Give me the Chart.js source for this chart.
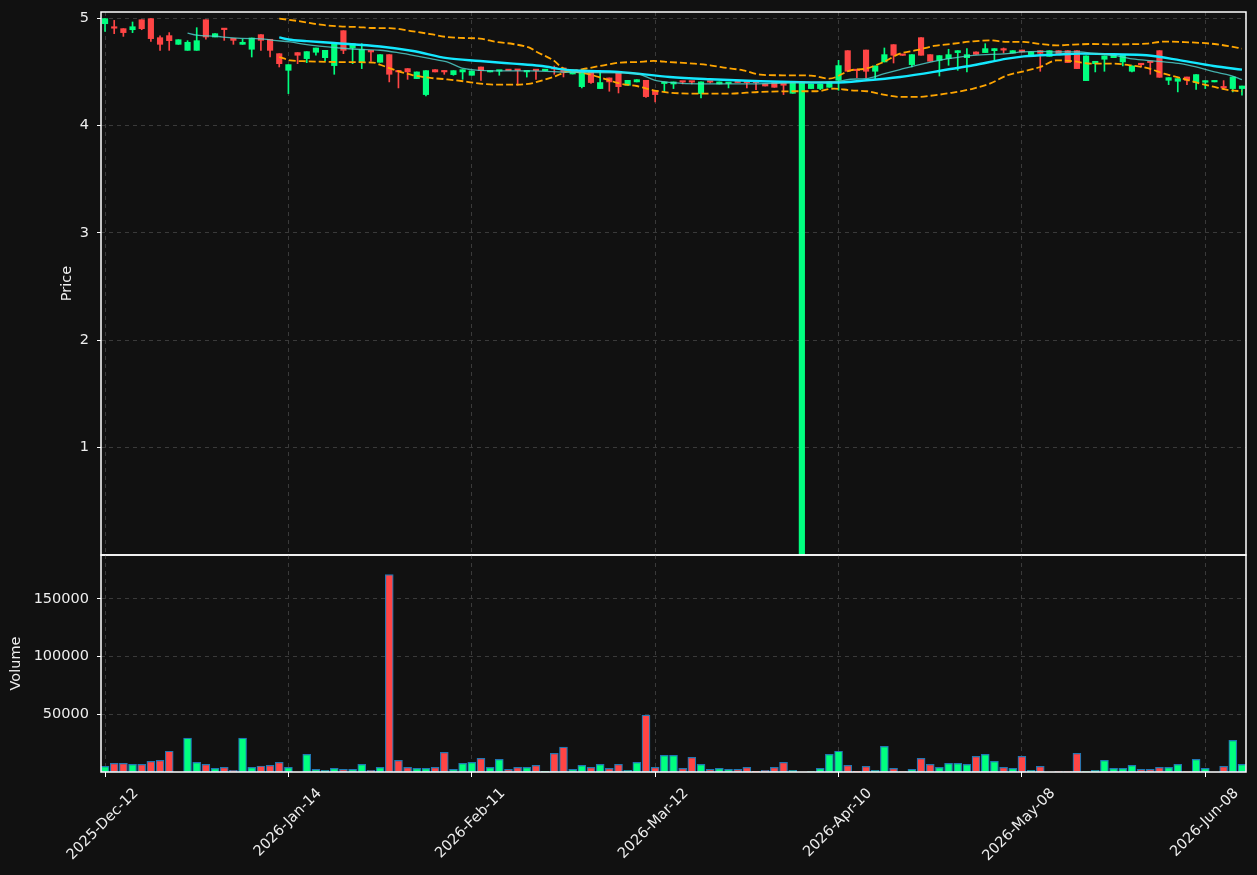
<!DOCTYPE html>
<html>
<head>
<meta charset="utf-8">
<script src="https://cdn.jsdelivr.net/npm/chart.js@4.4.1/dist/chart.umd.min.js"></script>
<style>
html, body { margin:0; padding:0; background:#111111; }
#wrap { position:relative; width:1257px; height:875px; }
#price { position:absolute; left:0; top:0; }
#vol { position:absolute; left:0; top:554px; }
</style>
</head>
<body>
<div id="wrap">
  <canvas id="price" width="1257" height="556"></canvas>
  <canvas id="vol" width="1257" height="321"></canvas>
</div>
<script>
// daily candles, index 0 = 2025-Dec-12
const openP = [4.947,4.908,4.901,4.891,4.984,4.994,4.817,4.836,4.755,4.699,
  4.699,4.984,4.823,4.898,4.811,4.755,4.709,4.845,4.802,4.668,
  4.513,4.678,4.622,4.681,4.631,4.557,4.882,4.721,4.588,4.699,
  4.588,4.659,4.510,4.529,4.436,4.287,4.519,4.510,4.473,4.498,
  4.467,4.544,4.498,4.505,4.513,4.515,4.498,4.513,4.510,4.529,
  4.535,4.479,4.361,4.495,4.343,4.442,4.498,4.374,4.405,4.420,
  4.324,4.390,4.386,4.406,4.406,4.296,4.406,4.386,4.390,4.401,
  4.401,4.401,4.386,4.405,4.405,4.299,0.0,4.343,4.343,4.355,
  4.420,4.696,4.515,4.702,4.504,4.591,4.752,4.655,4.566,4.817,
  4.659,4.606,4.622,4.678,4.631,4.684,4.678,4.696,4.705,4.674,
  4.702,4.659,4.696,4.643,4.696,4.696,4.696,4.417,4.575,4.616,
  4.631,4.591,4.504,4.572,4.597,4.696,4.420,4.411,4.451,4.399,
  4.402,4.405,4.352,4.343,4.343];
const highP = [4.994,4.978,4.901,4.963,4.984,4.994,4.833,4.864,4.798,4.789,
  4.910,4.984,4.854,4.898,4.811,4.802,4.814,4.845,4.802,4.668,
  4.566,4.678,4.687,4.721,4.699,4.761,4.882,4.761,4.761,4.699,
  4.659,4.659,4.510,4.529,4.498,4.510,4.519,4.510,4.510,4.519,
  4.507,4.544,4.507,4.513,4.513,4.515,4.513,4.513,4.510,4.553,
  4.535,4.510,4.495,4.495,4.513,4.442,4.498,4.420,4.426,4.420,
  4.324,4.405,4.405,4.406,4.406,4.405,4.406,4.405,4.400,4.401,
  4.401,4.401,4.386,4.405,4.405,4.405,4.405,4.386,4.386,4.405,
  4.606,4.696,4.515,4.702,4.554,4.721,4.752,4.655,4.659,4.817,
  4.659,4.650,4.709,4.696,4.715,4.684,4.761,4.715,4.721,4.696,
  4.702,4.684,4.696,4.696,4.696,4.696,4.696,4.647,4.597,4.647,
  4.653,4.653,4.554,4.572,4.597,4.696,4.445,4.436,4.451,4.473,
  4.417,4.405,4.417,4.451,4.367];
const lowP = [4.876,4.854,4.829,4.864,4.891,4.783,4.699,4.699,4.755,4.699,
  4.699,4.802,4.823,4.792,4.755,4.755,4.637,4.699,4.637,4.544,
  4.296,4.575,4.584,4.653,4.600,4.476,4.668,4.575,4.529,4.597,
  4.588,4.405,4.349,4.429,4.436,4.274,4.498,4.476,4.467,4.429,
  4.467,4.420,4.498,4.467,4.510,4.374,4.450,4.429,4.510,4.476,
  4.451,4.479,4.349,4.390,4.343,4.318,4.302,4.374,4.405,4.260,
  4.219,4.312,4.343,4.386,4.386,4.256,4.395,4.386,4.349,4.399,
  4.349,4.333,4.367,4.355,4.287,4.299,0.0,4.343,4.333,4.355,
  4.327,4.504,4.445,4.445,4.436,4.591,4.581,4.652,4.544,4.653,
  4.597,4.460,4.560,4.513,4.498,4.662,4.678,4.606,4.674,4.674,
  4.684,4.659,4.504,4.643,4.660,4.585,4.529,4.417,4.498,4.504,
  4.631,4.554,4.498,4.544,4.476,4.448,4.380,4.312,4.380,4.336,
  4.343,4.405,4.333,4.312,4.281];
const closeP = [4.994,4.905,4.864,4.919,4.901,4.808,4.755,4.789,4.798,4.774,
  4.789,4.823,4.854,4.892,4.792,4.774,4.814,4.792,4.699,4.575,
  4.566,4.653,4.687,4.721,4.699,4.761,4.699,4.761,4.709,4.684,
  4.659,4.476,4.498,4.498,4.498,4.510,4.498,4.498,4.510,4.519,
  4.507,4.510,4.507,4.513,4.510,4.512,4.513,4.510,4.510,4.525,
  4.495,4.510,4.495,4.399,4.399,4.405,4.361,4.420,4.426,4.268,
  4.287,4.405,4.405,4.403,4.403,4.405,4.403,4.405,4.400,4.399,
  4.398,4.398,4.367,4.355,4.374,4.405,4.405,4.386,4.386,4.405,
  4.557,4.504,4.510,4.504,4.554,4.659,4.653,4.652,4.659,4.653,
  4.597,4.650,4.659,4.696,4.659,4.662,4.715,4.715,4.701,4.696,
  4.684,4.684,4.671,4.696,4.660,4.585,4.529,4.647,4.597,4.647,
  4.653,4.653,4.554,4.565,4.585,4.448,4.445,4.436,4.420,4.473,
  4.417,4.405,4.349,4.451,4.367];
const volume = [4900,7540,7540,6670,6670,9280,10150,18000,0,29300,
  8400,6670,3190,4060,1450,29300,4060,5220,5800,8400,
  4060,0,15370,2320,1450,3190,2320,2320,6670,1450,
  4060,171000,10150,4060,3190,3190,4060,17100,2320,7540,
  8400,11900,4060,11000,2320,4060,4060,5800,500,16200,
  21500,2320,5800,4060,6670,3190,6670,1450,8400,49300,
  4060,14500,14500,3190,12760,6670,2320,3190,2320,2320,
  4060,580,1450,4060,8400,1450,0,300,3190,15370,
  18000,5800,580,4900,1450,22300,3190,400,2320,11900,
  6670,4060,7540,7540,6670,13600,15370,9280,4060,3190,
  13600,1450,4900,0,300,300,16200,300,1450,10150,
  3190,3190,5800,2320,2320,4060,4060,6670,300,11000,
  3190,0,4900,27500,6670];

// indicator lines: [bar index, price]
const maFast = [[9,4.86],[10,4.84],[12,4.83],[14,4.815],[16,4.808],[17,4.806],[18.4,4.792],
  [20.2,4.777],[22,4.752],[25.6,4.721],[27.5,4.709],[30,4.70],[31.8,4.68],[33.6,4.653],
  [35.5,4.622],[37.3,4.591],[39.1,4.53],[40.9,4.512],[44,4.507],[46.4,4.507],[50.7,4.495],
  [56,4.49],[58,4.482],[60,4.42],[61.6,4.40],[65,4.386],[70,4.386],[74,4.395],[76,4.40],
  [79.5,4.405],[81.3,4.43],[83,4.436],[85,4.482],[86.7,4.52],[88.5,4.56],[90.4,4.597],
  [92,4.622],[94.7,4.653],[98.4,4.668],[100,4.684],[102,4.69],[103.8,4.684],[106.4,4.684],
  [107.5,4.674],[110,4.653],[111.8,4.622],[113.6,4.606],[115.5,4.591],[117.3,4.575],
  [119,4.544],[121,4.498],[122.7,4.467],[124,4.426]];
const maSlow = [[19,4.82],[20,4.80],[22,4.785],[25,4.767],[30,4.735],[33.6,4.693],[37.3,4.626],
  [40.9,4.600],[44.5,4.575],[47.4,4.555],[50.7,4.513],[56,4.498],[61.6,4.451],[66,4.43],
  [71.5,4.411],[77,4.40],[79.5,4.399],[83.1,4.42],[86.7,4.451],[90.4,4.498],[92.2,4.525],
  [94.7,4.56],[98.4,4.622],[100.2,4.643],[103.8,4.659],[106.4,4.668],[110,4.662],
  [113.6,4.653],[117.3,4.606],[120.9,4.553],[124,4.519]];
const bandUpper = [[19,4.994],[21.3,4.969],[23.5,4.938],[25.6,4.922],[27.5,4.916],[29.3,4.907],
  [31,4.906],[33.6,4.876],[35.5,4.85],[37.3,4.823],[39.1,4.814],[40.9,4.808],[42.7,4.777],
  [44.5,4.758],[46.4,4.72],[47.1,4.684],[48.9,4.606],[50,4.529],[51,4.512],[52.5,4.53],
  [54.4,4.56],[56.2,4.585],[58,4.59],[59.8,4.60],[61.6,4.59],[64.2,4.575],[66,4.56],
  [67.8,4.535],[69.6,4.513],[71.5,4.473],[73.3,4.467],[77,4.464],[79,4.436],[81.3,4.513],
  [83,4.529],[84.9,4.59],[86.7,4.668],[88.5,4.70],[90.4,4.74],[92.2,4.758],[94.7,4.783],
  [96.5,4.792],[98.4,4.777],[100.2,4.777],[102,4.758],[103.8,4.745],[105.6,4.752],
  [107.5,4.758],[110,4.755],[113.6,4.761],[115.5,4.78],[117.3,4.777],[121,4.758],
  [122.7,4.736],[124,4.715]];
const bandLower = [[19,4.637],[20.2,4.606],[22,4.597],[25.6,4.59],[29.3,4.585],[30,4.565],
  [31.8,4.51],[33.6,4.467],[35.5,4.442],[37.3,4.429],[39.1,4.411],[40.9,4.389],[42.7,4.38],
  [44.5,4.38],[46.4,4.389],[47.1,4.405],[48.9,4.451],[50.7,4.504],[52.5,4.482],[54.4,4.436],
  [56.2,4.389],[58,4.367],[59.8,4.327],[61.6,4.305],[64.2,4.296],[67.8,4.296],[71.5,4.312],
  [75.1,4.318],[77.6,4.318],[79.5,4.343],[81.3,4.327],[83.1,4.318],[84.9,4.287],[86.7,4.265],
  [88.5,4.265],[90.4,4.28],[92.2,4.302],[94.7,4.343],[96.5,4.389],[98.4,4.467],[100.2,4.504],
  [102,4.544],[103.8,4.606],[105.6,4.597],[107.5,4.575],[110,4.575],[111.8,4.56],[113.6,4.535],
  [115.5,4.482],[117.3,4.442],[119,4.40],[121,4.358],[122.7,4.327],[124,4.318]];

const tickIdx = [0,20,40,60,80,100,120];
const tickLabels = ['2025-Dec-12','2026-Jan-14','2026-Feb-11','2026-Mar-12','2026-Apr-10','2026-May-08','2026-Jun-08'];
const priceTicks = [1,2,3,4,5];
const volTicks = [50000,100000,150000];

const UP = '#00ff7f', DOWN = '#ff4545';
const txt = '#eeeeee', gridCol = '#3a3a3a';
Chart.defaults.font.family = "'DejaVu Sans', sans-serif";
Chart.defaults.font.size = 14.5;
Chart.defaults.color = txt;

const idx = openP.map((_, i) => i);
const candleCol = idx.map(i => closeP[i] >= openP[i] ? UP : DOWN);
const pts = arr => arr.map(p => ({x: p[0], y: p[1]}));

const framePlugin = {
  id: 'frame',
  afterDraw(chart) {
    const a = chart.chartArea, c = chart.ctx;
    c.save();
    c.strokeStyle = '#ffffff';
    c.lineWidth = 1.5;
    c.strokeRect(a.left, a.top, a.right - a.left, a.bottom - a.top);
    c.restore();
  }
};

function noPad(a) {
  a.paddingTop = 0; a.paddingBottom = 0; a.paddingLeft = 0; a.paddingRight = 0;
}

function xScale(showLabels) {
  return {
    type: 'linear', min: -0.44, max: 124.44, offset: false,
    afterBuildTicks: a => { a.ticks = tickIdx.map(v => ({value: v})); },
    afterFit: a => { a.height = showLabels ? 103 : 0; noPad(a); },
    ticks: showLabels ? {
      display: true, color: txt, autoSkip: false, maxRotation: 45, minRotation: 45,
      padding: 8, labelOffset: 31,
      callback: v => tickLabels[tickIdx.indexOf(v)]
    } : {display: false},
    grid: {color: gridCol, offset: false, drawTicks: showLabels, tickColor: '#ffffff', tickLength: 5, tickBorderDash: []},
    border: {display: false, dash: [4, 4]}
  };
}

function yScale(min, max, ticks, title, titlePad) {
  return {
    min: min, max: max,
    afterBuildTicks: a => { a.ticks = ticks.map(v => ({value: v})); },
    afterFit: a => { a.width = 101; noPad(a); },
    ticks: {color: txt, padding: 8, callback: v => String(v)},
    grid: {color: gridCol, tickColor: '#ffffff', tickLength: 4, tickBorderDash: []},
    border: {display: false, dash: [4, 4]},
    title: {display: true, text: title, color: txt, padding: {top: titlePad, bottom: 0}}
  };
}

const common = {
  responsive: false, animation: false,
  plugins: {legend: {display: false}, tooltip: {enabled: false}}
};

new Chart(document.getElementById('price'), {
  type: 'bar',
  data: {
    datasets: [
      {type: 'line', data: pts(maFast), borderColor: 'rgba(80,215,210,0.8)', borderWidth: 1.3,
       pointRadius: 0, cubicInterpolationMode: 'monotone', order: 0},
      {type: 'line', data: pts(maSlow), borderColor: '#14e8ff', borderWidth: 2.4,
       pointRadius: 0, cubicInterpolationMode: 'monotone', order: 0},
      {type: 'line', data: pts(bandUpper), borderColor: '#ffa500', borderWidth: 1.8, borderDash: [7, 3],
       pointRadius: 0, cubicInterpolationMode: 'monotone', order: 0},
      {type: 'line', data: pts(bandLower), borderColor: '#ffa500', borderWidth: 1.8, borderDash: [7, 3],
       pointRadius: 0, cubicInterpolationMode: 'monotone', order: 0},
      {data: idx.map(i => ({x: i, y: [openP[i], closeP[i]]})), backgroundColor: candleCol,
       barThickness: 5.5, minBarLength: 1.5, grouped: false, order: 1},
      {data: idx.map(i => ({x: i, y: [lowP[i], highP[i]]})), backgroundColor: candleCol,
       barThickness: 1, minBarLength: 1, grouped: false, order: 2}
    ]
  },
  options: Object.assign({}, common, {
    layout: {padding: {top: 12, right: 11, bottom: 1, left: 0}},
    scales: {x: xScale(false), y: yScale(0, 5.056, priceTicks, 'Price', 59)}
  }),
  plugins: [framePlugin]
});

new Chart(document.getElementById('vol'), {
  type: 'bar',
  data: {
    datasets: [
      {data: idx.map(i => ({x: i, y: volume[i]})), backgroundColor: candleCol,
       borderColor: '#1f77b4', borderWidth: 1.2, borderSkipped: false,
       barThickness: 8, grouped: false}
    ]
  },
  options: Object.assign({}, common, {
    layout: {padding: {top: 1, right: 11, bottom: 0, left: 0}},
    scales: {x: xScale(true), y: yScale(0, 188000, volTicks, 'Volume', 8)}
  }),
  plugins: [framePlugin]
});
</script>
</body>
</html>
